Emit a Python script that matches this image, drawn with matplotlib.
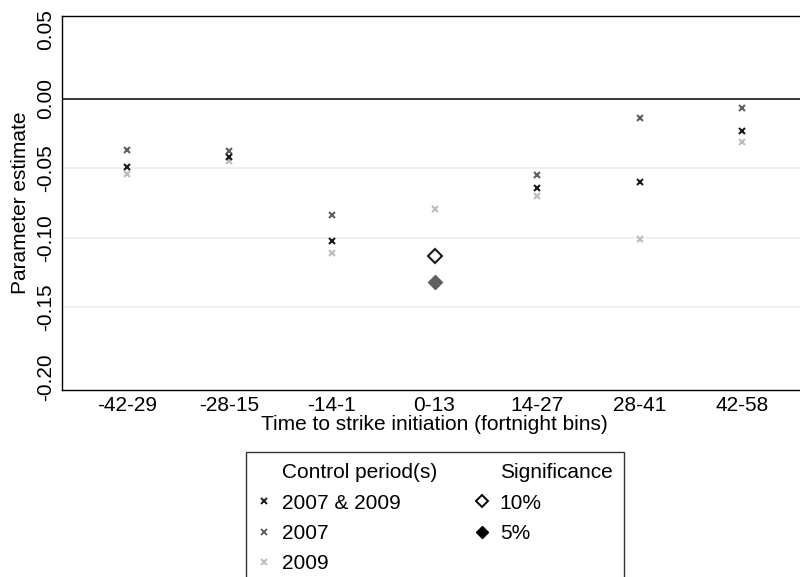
import numpy as np
import matplotlib; matplotlib.use("Agg")
import matplotlib.pyplot as plt
from matplotlib.lines import Line2D
plt.rcParams.update({"font.family": "Liberation Sans", "font.size": 15})

bins = ["-42-29", "-28-15", "-14-1", "0-13", "14-27", "28-41", "42-58"]
est_both = [-0.049, -0.042, -0.1025, -0.113, -0.064, -0.0597, -0.023]
est_2007 = [-0.0367, -0.0374, -0.0835, -0.132, -0.0545, -0.0137, -0.0067]
est_2009 = [-0.054, -0.0446, -0.1105, -0.079, -0.0696, -0.1007, -0.0307]
sig_both = [0, 0, 0, 10, 0, 0, 0]
sig_2007 = [0, 0, 0, 5, 0, 0, 0]
sig_2009 = [0, 0, 0, 0, 0, 0, 0]
yticks = [0.05, 0.00, -0.05, -0.10, -0.15, -0.20]

C_BOTH, C_07, C_09 = "#1a1a1a", "#606060", "#bdbdbd"

fig = plt.figure(figsize=(8, 5.77), dpi=100)
ax = fig.add_axes([0.0775, 0.324, 0.93, 0.6483])
x = np.arange(1, len(bins) + 1)

for ys in (-0.05, -0.10, -0.15):
    ax.axhline(ys, color="#e8eff2", lw=1.3, zorder=0)
ax.axhline(0, color="k", lw=1.1, zorder=1)

for vals, sig, col in [(est_2009, sig_2009, C_09), (est_2007, sig_2007, C_07), (est_both, sig_both, C_BOTH)]:
    vals = np.array(vals); sig = np.array(sig)
    m = sig == 0
    ax.plot(x[m], vals[m], "x", color=col, ms=5, mew=1.5, ls="none", zorder=3)
    m10 = sig == 10
    ax.plot(x[m10], vals[m10], "D", mfc="white", mec=col, ms=7, mew=1.5, ls="none", zorder=3)
    m5 = sig == 5
    ax.plot(x[m5], vals[m5], "D", mfc=col, mec=col, ms=7.5, mew=1, ls="none", zorder=3)

ax.set_xlim(0.37, 7.52 + 0.1)
ax.set_ylim(-0.2094, 0.0597)
ax.set_xticks(x, bins)
ax.set_yticks(yticks, [f"{v:.2f}" for v in yticks])
for lab in ax.get_yticklabels():
    lab.set_rotation(90); lab.set_va("center")
ax.tick_params(length=0, pad=4)
ax.tick_params(axis="y", pad=5)
for s in ax.spines.values():
    s.set_linewidth(1.0)
ax.spines["right"].set_visible(False)
ax.set_ylabel("Parameter estimate", labelpad=4)
ax.set_xlabel("Time to strike initiation (fortnight bins)", labelpad=0)

blank = Line2D([], [], ls="none")
handles = [blank,
           Line2D([], [], ls="none", marker="x", color=C_BOTH, ms=4.5, mew=1.4),
           Line2D([], [], ls="none", marker="x", color=C_07, ms=4.5, mew=1.4),
           Line2D([], [], ls="none", marker="x", color=C_09, ms=4.5, mew=1.4),
           blank,
           Line2D([], [], ls="none", marker="D", mfc="white", mec="k", ms=6, mew=1.4),
           Line2D([], [], ls="none", marker="D", mfc="k", mec="k", ms=6.5),
           blank]
labels = ["Control period(s)", "2007 & 2009", "2007", "2009",
          "Significance", "10%", "5%", ""]
leg = fig.legend(handles, labels, ncol=2, loc="upper left",
                 bbox_to_anchor=(246 / 800, 1 - 452 / 577), bbox_transform=fig.transFigure,
                 borderaxespad=0, fancybox=False, shadow=False, frameon=True,
                 edgecolor="k", handlelength=0.6, handletextpad=0.565,
                 borderpad=0.55, columnspacing=1.85, labelspacing=0.54, fontsize=15)
leg.get_frame().set_linewidth(1.0)

fig.savefig("out.png", dpi=100)
